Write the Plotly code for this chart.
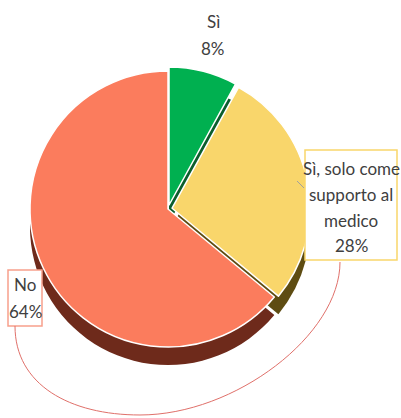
import plotly.graph_objects as go

labels = ["Sì", "Sì, solo come supporto al medico", "No"]
values = [8, 28, 64]
face_colors = ["#00B050", "#F9D66B", "#FB7C5D"]
side_colors = ["#0B5E2C", "#5E4C12", "#6E2A1B"]
pulls = [0.03, 0.03, 0.0]

W, H = 401, 418

def px(x):
    return x / W

def py(y):
    return 1 - y / H

# face pie geometry (pixels); plotly shrinks radius by 1/(1+max pull)
cx, cy, r_eff = 168, 209, 138
r = r_eff * (1 + max(pulls))
shift = 18

def dom(cy_):
    return dict(x=[px(cx - r), px(cx + r)], y=[py(cy_ + r), py(cy_ - r)])

fig = go.Figure()
fig.add_trace(go.Pie(
    labels=labels, values=values, sort=False, direction="clockwise", rotation=0,
    marker=dict(colors=side_colors, line=dict(color="white", width=0)),
    pull=pulls, textinfo="none", hoverinfo="skip", showlegend=False,
    domain=dom(cy + shift),
))
fig.add_trace(go.Pie(
    labels=labels, values=values, sort=False, direction="clockwise", rotation=0,
    marker=dict(colors=face_colors, line=dict(color="white", width=1.5)),
    pull=pulls, textinfo="none", hoverinfo="label+percent", showlegend=False,
    domain=dom(cy),
))

font = dict(family="Lato, Open Sans, sans-serif", size=17, color="#404040")
pct = [f"{v}%" for v in values]

def text_lines(lines, xc, ys):
    for t, y in zip(lines, ys):
        fig.add_annotation(x=px(xc), y=py(y), xref="paper", yref="paper",
                           xanchor="center", yanchor="middle",
                           text=t, showarrow=False, font=font)

# label boxes
fig.add_shape(type="rect", xref="paper", yref="paper",
              x0=px(305), x1=px(397), y0=py(260), y1=py(150),
              fillcolor="white", line=dict(color="#F9D66B", width=1.5), layer="above")
fig.add_shape(type="rect", xref="paper", yref="paper",
              x0=px(8), x1=px(42), y0=py(326), y1=py(270),
              fillcolor="white", line=dict(color="#F7A08C", width=1.5), layer="above")

text_lines([labels[0], pct[0]], 213, [22, 48])
text_lines(["Sì, solo come", "supporto al", "medico", pct[1]], 351, [168, 194, 220, 246])
text_lines([labels[2], pct[2]], 25, [284, 311])

def pt(x, y):
    return f"{px(x):.4f},{py(y):.4f}"

fig.add_shape(type="path", xref="paper", yref="paper",
              path=(f"M {pt(15,326)} C {pt(15,385)} {pt(70,415)} {pt(140,415)} "
                    f"C {pt(235,415)} {pt(340,335)} {pt(340,262)}"),
              line=dict(color="#E0706A", width=1))
fig.add_shape(type="line", xref="paper", yref="paper",
              x0=px(297), y0=py(181), x1=px(304), y1=py(188),
              line=dict(color="#A0A0A0", width=1))

fig.update_layout(width=W, height=H, margin=dict(l=0, r=0, t=0, b=0),
                  paper_bgcolor="white", plot_bgcolor="white")
fig.write_html("out.html")
